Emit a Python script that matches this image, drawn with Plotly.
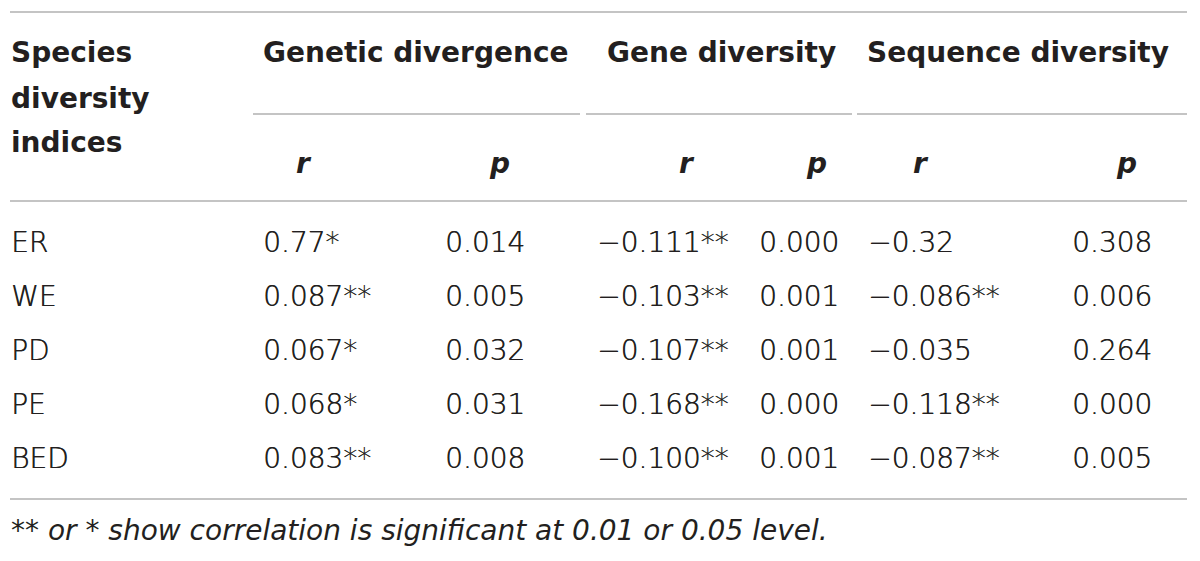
import plotly.graph_objects as go

# ---- data ----
row_labels = ["ER", "WE", "PD", "PE", "BED"]
gen_div_r = ["0.77*", "0.087**", "0.067*", "0.068*", "0.083**"]
gen_div_p = ["0.014", "0.005", "0.032", "0.031", "0.008"]
gene_div_r = ["\u22120.111**", "\u22120.103**", "\u22120.107**", "\u22120.168**", "\u22120.100**"]
gene_div_p = ["0.000", "0.001", "0.001", "0.000", "0.001"]
seq_div_r = ["\u22120.32", "\u22120.086**", "\u22120.035", "\u22120.118**", "\u22120.087**"]
seq_div_p = ["0.308", "0.006", "0.264", "0.000", "0.005"]

stub_header = ["Species", "diversity", "indices"]
group_headers = ["Genetic divergence", "Gene diversity", "Sequence diversity"]
sub_headers = ["r", "p", "r", "p", "r", "p"]
footnote = "** or * show correlation is significant at 0.01 or 0.05 level."

# ---- layout constants (page pixel grid; the page body has an 8px margin) ----
PAGE_W, PAGE_H, BODY_MARGIN = 1200, 561, 8
FONT = "DejaVu Sans, Liberation Sans, sans-serif"
DATA_SIZE = 28
HEAD_SIZE = 28
FOOT_SIZE = 28
TXT = "#231f20"
LINE = "#c4c4c4"
LIGHT_SHADOW = "0.45px 0px 0px #231f20"  # slightly thickens the light face
DY = 3  # vertical nudge so glyph centres sit on the grid

stub_x = 11
data_col_x = [263, 445, 597, 759, 868, 1072]
sub_col_x = [303, 500, 686, 817, 920, 1127]
group_x = [263, 607, 867]
group_line_x = [(253, 580), (586, 852), (857, 1187)]
stub_y = [52, 98, 142]
group_y = 52
sub_y = 163
row_y0, row_dy = 242, 54
top_y, group_line_y, head_line_y, bottom_y, foot_y = 12, 114, 201, 499, 530
table_x0, table_x1 = 10, 1187

fig = go.Figure()

def text_trace(xs, ys, texts, size, pos="middle right", weight="normal", style="normal",
               color=TXT, shadow="none"):
    fig.add_trace(go.Scatter(
        x=xs, y=[v + DY for v in ys], text=texts, mode="text", textposition=pos,
        textfont=dict(family=FONT, size=size, color=color, weight=weight, style=style,
                      shadow=shadow),
        hoverinfo="skip", showlegend=False, cliponaxis=False))

# stub header
text_trace([stub_x] * 3, stub_y, stub_header, HEAD_SIZE, weight="bold")
# group headers
text_trace(group_x, [group_y] * 3, group_headers, HEAD_SIZE, weight="bold")
# sub headers r / p
text_trace(sub_col_x, [sub_y] * 6, sub_headers, HEAD_SIZE, pos="middle center", weight="bold", style="italic")

row_y = [row_y0 + i * row_dy for i in range(len(row_labels))]
text_trace([stub_x] * len(row_labels), row_y, row_labels, DATA_SIZE, weight=300, shadow=LIGHT_SHADOW)
for cx, col in zip(data_col_x, [gen_div_r, gen_div_p, gene_div_r, gene_div_p, seq_div_r, seq_div_p]):
    text_trace([cx] * len(col), row_y, col, DATA_SIZE, weight=300, shadow=LIGHT_SHADOW)

# footnote
text_trace([stub_x], [foot_y], [footnote], FOOT_SIZE, style="italic", weight=300)

# rules
shapes = []
for y in (top_y, head_line_y, bottom_y):
    shapes.append(dict(type="line", xref="x", yref="y", x0=table_x0, x1=table_x1, y0=y, y1=y,
                       line=dict(color=LINE, width=2)))
for x0, x1 in group_line_x:
    shapes.append(dict(type="line", xref="x", yref="y", x0=x0, x1=x1, y0=group_line_y, y1=group_line_y,
                       line=dict(color=LINE, width=2)))

fig.update_layout(
    width=PAGE_W - BODY_MARGIN, height=PAGE_H - BODY_MARGIN, margin=dict(l=0, r=0, t=0, b=0),
    paper_bgcolor="white", plot_bgcolor="white", shapes=shapes,
    xaxis=dict(range=[BODY_MARGIN, PAGE_W], visible=False, fixedrange=True),
    yaxis=dict(range=[PAGE_H, BODY_MARGIN], visible=False, fixedrange=True),
)

fig.write_html("out.html")
